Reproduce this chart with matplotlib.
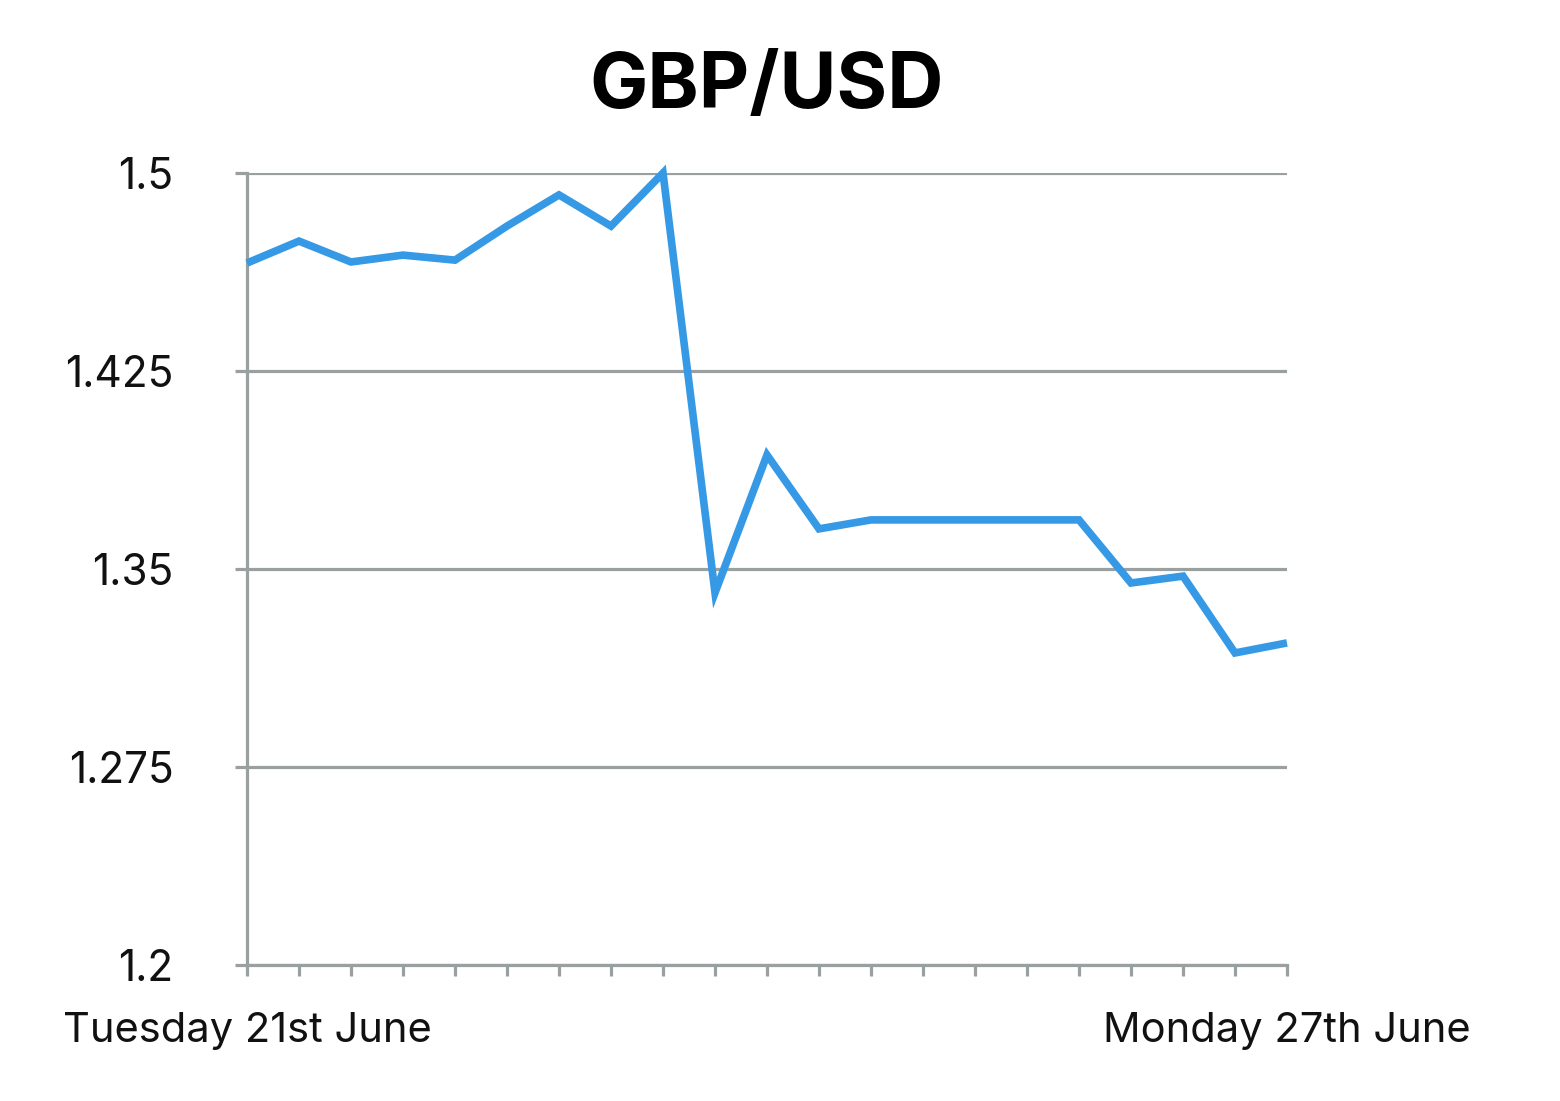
import matplotlib.pyplot as plt

# GBP/USD, 21 points from Tuesday 21st June to Monday 27th June
puntos = list(range(21))
valores = [1.4659, 1.4742, 1.4663, 1.4689, 1.4670, 1.4799, 1.4917, 1.4799, 1.5000,
           1.3410, 1.3932, 1.3652, 1.3686, 1.3686, 1.3686, 1.3686, 1.3686,
           1.3447, 1.3473, 1.3182, 1.3220]
etiquetas_x = ['Tuesday 21st June'] + [''] * 19 + ['Monday 27th June']
ticks_y = [1.2, 1.275, 1.35, 1.425, 1.5]
etiquetas_y = ['1.2', '1.275', '1.35', '1.425', '1.5']

gris = '#9a9fa0'
azul = '#3599e6'

plt.rcParams['font.family'] = ['Inter', 'DejaVu Sans']

fig = plt.figure(figsize=(15.6, 11.01), dpi=100)
ax = fig.add_axes([247 / 1560, 136 / 1101, 1040 / 1560, 792 / 1101])

ax.plot(puntos, valores, color=azul, linewidth=5.5, clip_on=False,
        solid_joinstyle='miter', solid_capstyle='butt', zorder=3)

ax.set_xlim(0, 20)
ax.set_ylim(1.2, 1.5)
ax.set_xticks(puntos)
ax.set_xticklabels(etiquetas_x, fontsize=30, color='#111111')
ax.set_yticks(ticks_y)
ax.set_yticklabels(etiquetas_y, fontsize=30.5, color='#111111')

ax.grid(axis='y', color=gris, linewidth=2.3, zorder=1)
ax.tick_params(axis='y', length=9, width=2.3, color=gris, pad=44)
ax.tick_params(axis='x', length=8, width=2.3, color=gris, pad=26)

for lado in ['top', 'right']:
    ax.spines[lado].set_visible(False)
for lado in ['left', 'bottom']:
    ax.spines[lado].set_color(gris)
    ax.spines[lado].set_linewidth(2.3)

ax.set_title('GBP/USD', fontsize=56, fontweight='bold', pad=47)

fig.savefig('out.png', dpi=100)
